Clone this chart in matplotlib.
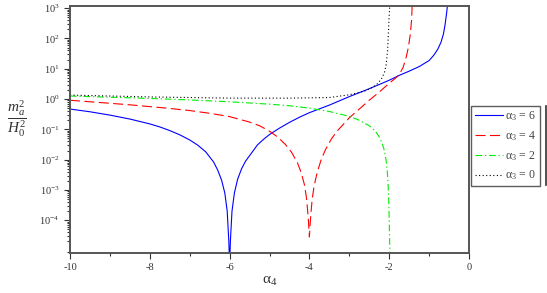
import numpy as np
import matplotlib
matplotlib.use("Agg")
import matplotlib.pyplot as plt
from matplotlib.lines import Line2D

plt.rcParams['font.family'] = ['Liberation Serif', 'DejaVu Serif']
plt.rcParams['mathtext.fontset'] = 'custom'
plt.rcParams['mathtext.rm'] = 'Liberation Serif'
plt.rcParams['mathtext.it'] = 'Liberation Serif:italic'

# values (alpha_4, log10 of m_a^2/H_0^2)
a_blue = [-10.0, -9.5, -9.0, -8.5, -8.0, -7.75, -7.5, -7.25, -7.0, -6.8, -6.6, -6.4, -6.3,
          -6.2, -6.12, -6.06, -6.02, -6.0, -5.98, -5.94, -5.88, -5.8, -5.7, -5.6, -5.45,
          -5.3, -5.15, -5.0, -4.75, -4.5, -4.25, -4.0, -3.5, -3.0, -2.5, -2.0, -1.75,
          -1.5, -1.25, -1.0, -0.88, -0.78, -0.7, -0.64, -0.6, -0.56, -0.53]
y_blue = [-0.33, -0.42, -0.53, -0.66, -0.82, -0.92, -1.04, -1.18, -1.35, -1.52, -1.74, -2.08,
          -2.34, -2.68, -3.1, -3.7, -4.68, -5.5, -4.68, -3.7, -3.1, -2.65, -2.3, -2.05, -1.78,
          -1.51, -1.33, -1.17, -0.96, -0.77, -0.6, -0.45, -0.2, 0.08, 0.34, 0.62, 0.78,
          0.92, 1.07, 1.27, 1.45, 1.65, 1.88, 2.15, 2.45, 2.85, 3.2]

a_red = [-10.0, -9.5, -9.0, -8.5, -8.0, -7.5, -7.0, -6.5, -6.0, -5.5, -5.25, -5.0, -4.8,
         -4.6, -4.45, -4.3, -4.2, -4.12, -4.07, -4.03, -4.0, -3.97, -3.93, -3.88, -3.8,
         -3.7, -3.6, -3.45, -3.3, -3.0, -2.75, -2.5, -2.25, -2.0, -1.85, -1.75, -1.65,
         -1.58, -1.52, -1.47, -1.44, -1.42]
y_red = [-0.04, -0.09, -0.14, -0.19, -0.25, -0.31, -0.38, -0.47, -0.58, -0.76, -0.88, -1.06,
         -1.25, -1.5, -1.75, -2.1, -2.45, -2.85, -3.3, -3.9, -4.55, -3.9, -3.3, -2.85, -2.4,
         -1.98, -1.68, -1.32, -1.05, -0.62, -0.33, -0.04, 0.23, 0.52, 0.68, 0.8, 1.05,
         1.35, 1.7, 2.15, 2.6, 3.2]

a_green = [-10.0, -9.0, -8.0, -7.0, -6.0, -5.0, -4.5, -4.0, -3.5, -3.0, -2.75, -2.5, -2.35,
           -2.25, -2.18, -2.12, -2.08, -2.05, -2.03, -2.01, -2.0, -1.99, -1.98]
y_green = [0.1, 0.06, 0.02, -0.03, -0.09, -0.17, -0.22, -0.3, -0.41, -0.57, -0.7, -0.88, -1.05,
           -1.25, -1.45, -1.7, -2.0, -2.35, -2.75, -3.4, -4.0, -4.6, -5.3]

a_black = [-10.0, -8.0, -6.0, -4.5, -3.5, -3.0, -2.6, -2.4, -2.3, -2.2, -2.16, -2.12, -2.08,
           -2.04, -2.02, -2.0, -1.98]
y_black = [0.13, 0.07, 0.03, 0.03, 0.05, 0.14, 0.27, 0.4, 0.5, 0.65, 0.76, 0.88, 1.1,
           1.6, 2.2, 2.75, 3.2]

labels = [r'α$_3$ = 6', r'α$_3$ = 4', r'α$_3$ = 2', r'α$_3$ = 0']

fig = plt.figure(figsize=(5.47, 2.93), dpi=100)
ax = fig.add_axes([70 / 547, 40 / 293, 399 / 547, 247 / 293])

ax.plot(a_blue, 10 ** np.array(y_blue), color='#0000ff', lw=0.8, label=labels[0])
ax.plot(a_red, 10 ** np.array(y_red), color='#ff0000', lw=0.8, dashes=(9, 4), label=labels[1])
ax.plot(a_green, 10 ** np.array(y_green), color='#00ee00', lw=0.8, dashes=(6, 2.5, 1.2, 2.5),
        label=labels[2])
ax.plot(a_black, 10 ** np.array(y_black), color='black', lw=0.8, dashes=(1, 2.2), label=labels[3])

ax.set_yscale('log')
ax.set_xlim(-10, 0)
ax.set_ylim(10 ** -5.08, 10 ** 3.07)
ax.set_xticks([-10, -8, -6, -4, -2, 0])
ax.set_xticklabels(['-10', '-8', '-6', '-4', '-2', '0'])
ax.set_xticks([-9, -7, -5, -3, -1], minor=True)
ax.set_yticks([1e-4, 1e-3, 1e-2, 1e-1, 1, 10, 100, 1000])

for s in ax.spines.values():
    s.set_color('#555555')
    s.set_linewidth(1.4)
ax.tick_params(which='both', direction='out', color='#333333', labelcolor='#333333',
               labelsize=7.5, width=0.8)
ax.tick_params(which='major', length=4)
ax.tick_params(which='minor', length=2)

ax.set_xlabel(r'α$_4$', fontsize=11, color='#333333', labelpad=2)
fig.text(17 / 547, 1 - 119 / 293, r'$\dfrac{m_a^2}{H_0^2}$', fontsize=11, color='#333333',
         ha='center', va='center')

leg = ax.legend(loc='upper left', bbox_to_anchor=(471 / 547, 1 - 106 / 293),
                bbox_transform=fig.transFigure, frameon=True, fancybox=False,
                fontsize=8.5, handlelength=2.4, handletextpad=0.2, borderpad=0.3,
                labelspacing=0.5, borderaxespad=0)
leg.get_frame().set_edgecolor('#333333')
leg.get_frame().set_linewidth(1.0)
for t in leg.get_texts():
    t.set_color('#444444')

fig.add_artist(Line2D([545.5 / 547, 545.5 / 547], [1 - 106 / 293, 1 - 185 / 293],
                      color='#333333', lw=1.2))

fig.savefig('out.png', dpi=100)
